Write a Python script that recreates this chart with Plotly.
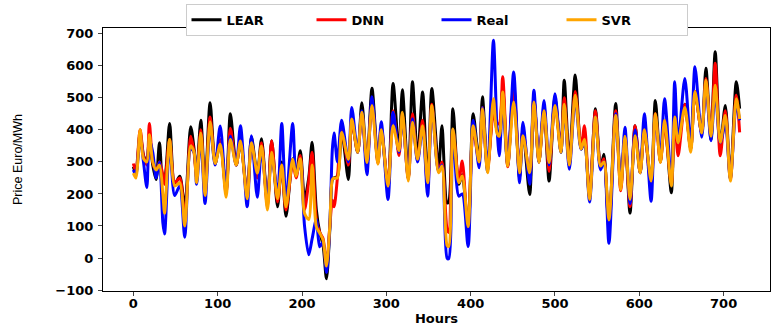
import plotly.graph_objects as go

hours = [0, 3, 8, 12, 16, 19, 23, 27, 31, 35, 37, 43, 49, 55, 61, 68, 72, 75, 80, 85,
         91, 97, 103, 110, 115, 122, 127, 135, 140, 147, 152, 159, 164, 171, 176, 181, 189, 193, 198, 203,
         208, 212, 217, 221, 225, 229, 233, 236, 238, 242, 247, 255, 259, 266, 271, 277, 283, 290, 294, 302,
         308, 315, 319, 326, 331, 337, 343, 349, 354, 362, 366, 372, 374, 379, 386, 390, 397, 403, 410, 414,
         420, 427, 431, 434, 438, 444, 451, 458, 462, 470, 475, 481, 487, 493, 500, 507, 511, 517, 524, 531,
         535, 541, 548, 554, 558, 564, 572, 578, 583, 589, 595, 601, 606, 614, 619, 625, 630, 638, 642, 646,
         654, 661, 666, 674, 679, 685, 690, 696, 702, 708, 715, 719]

lear = [285, 265, 390, 320, 300, 380, 290, 245, 360, 235, 240, 420, 230, 255, 160, 410, 340, 260, 430, 220,
        485, 295, 360, 210, 450, 290, 360, 200, 378, 260, 372, 170, 366, 160, 300, 130, 310, 260, 335, 185,
        250, 361, 150, 80, 40, -65, 90, 245, 250, 255, 400, 245, 430, 330, 485, 290, 530, 300, 400, 220,
        545, 330, 525, 250, 550, 310, 518, 230, 529, 280, 413, 172, 175, 466, 230, 260, 90, 450, 300, 503,
        280, 470, 400, 380, 530, 290, 530, 250, 400, 198, 500, 300, 470, 240, 500, 330, 555, 300, 571, 340,
        370, 190, 466, 280, 324, 100, 482, 220, 380, 140, 413, 266, 400, 235, 492, 300, 430, 204, 450, 360,
        480, 340, 520, 390, 592, 370, 644, 350, 476, 250, 550, 466]

dnn = [295, 270, 400, 320, 290, 420, 300, 270, 300, 260, 230, 370, 235, 250, 120, 380, 330, 250, 400, 200,
       440, 300, 370, 200, 405, 290, 370, 190, 365, 250, 360, 160, 366, 175, 290, 150, 300, 250, 320, 150,
       240, 330, 120, 80, 60, -30, 100, 180, 160, 250, 400, 290, 430, 330, 455, 290, 490, 295, 410, 225,
       460, 320, 450, 245, 450, 305, 430, 215, 480, 270, 300, 90, 80, 400, 240, 303, 80, 400, 300, 470,
       275, 450, 420, 420, 566, 285, 540, 260, 400, 250, 500, 300, 470, 270, 490, 340, 500, 290, 520, 345,
       413, 190, 460, 285, 310, 90, 460, 210, 380, 160, 413, 266, 400, 220, 450, 300, 420, 230, 440, 319,
       480, 340, 520, 390, 560, 380, 608, 319, 460, 245, 508, 392]

real = [275, 260, 380, 300, 220, 370, 330, 250, 300, 110, 75, 360, 195, 225, 65, 340, 330, 230, 375, 170,
        410, 290, 412, 210, 380, 290, 413, 160, 382, 190, 340, 180, 320, 200, 420, 175, 420, 260, 300, 100,
        10, 60, 120, 35, 50, -45, 100, 340, 390, 300, 430, 300, 470, 330, 460, 260, 503, 300, 425, 183,
        455, 330, 440, 250, 435, 300, 410, 193, 470, 270, 290, 0, -2, 400, 193, 200, 36, 430, 282, 470,
        270, 680, 420, 319, 480, 290, 581, 235, 424, 230, 524, 300, 492, 290, 513, 330, 470, 277, 500, 340,
        360, 175, 440, 275, 300, 46, 450, 230, 408, 170, 400, 266, 450, 177, 440, 320, 497, 240, 550, 360,
        560, 350, 597, 377, 540, 366, 520, 360, 419, 245, 480, 430]

svr = [265, 250, 400, 310, 300, 385, 300, 275, 290, 200, 140, 370, 225, 235, 100, 350, 330, 235, 390, 195,
       425, 295, 355, 190, 370, 290, 365, 185, 360, 265, 350, 150, 330, 185, 290, 160, 308, 255, 310, 140,
       120, 290, 98, 78, 56, -25, 100, 245, 250, 250, 392, 308, 434, 330, 455, 298, 476, 293, 400, 224,
       413, 335, 455, 240, 424, 308, 413, 235, 476, 266, 287, 40, 36, 403, 235, 256, 98, 413, 300, 466,
       266, 497, 392, 380, 518, 287, 487, 266, 382, 266, 487, 298, 460, 298, 476, 330, 480, 290, 508, 340,
       370, 183, 440, 287, 300, 119, 445, 214, 380, 183, 382, 266, 400, 240, 450, 298, 430, 225, 440, 360,
       470, 330, 520, 390, 555, 380, 539, 361, 445, 240, 497, 434]

series = [("LEAR", lear, "black"), ("DNN", dnn, "red"), ("Real", real, "blue"), ("SVR", svr, "orange")]

x_ticks = [0, 100, 200, 300, 400, 500, 600, 700]
y_ticks = [-100, 0, 100, 200, 300, 400, 500, 600, 700]
y_tick_text = ["\u2212100", "0", "100", "200", "300", "400", "500", "600", "700"]

fig = go.Figure()
for name, vals, color in series:
    fig.add_trace(go.Scatter(x=hours, y=vals, name=name, mode="lines",
                             line=dict(color=color, width=3, shape="spline", smoothing=0.8)))

tick_font = dict(family="DejaVu Sans", size=13, color="black", weight="bold")

fig.update_layout(
    width=784, height=328,
    margin=dict(l=103, r=14, t=28, b=37, autoexpand=False),
    paper_bgcolor="white", plot_bgcolor="white",
    showlegend=True,
    legend=dict(orientation="h", x=0.5, xanchor="center", y=1.092, yanchor="top",
                font=dict(family="DejaVu Sans", size=13, color="black", weight="bold"),
                bgcolor="white", bordercolor="#cccccc", borderwidth=1,
                entrywidth=80, entrywidthmode="pixels", tracegroupgap=0),
    xaxis=dict(range=[-36, 755], tickvals=x_ticks, ticks="outside", ticklen=4, tickcolor="#444444",
               showline=True, linecolor="black", linewidth=1, mirror=True, showgrid=False,
               zeroline=False, tickfont=tick_font, automargin=False, ticklabelstandoff=-4,
               title=dict(text="Hours", font=tick_font, standoff=0)),
    yaxis=dict(range=[-103, 718], tickvals=y_ticks, ticktext=y_tick_text, ticks="outside", ticklen=4,
               tickcolor="#444444", showline=True, linecolor="black", linewidth=1, mirror=True,
               showgrid=False, zeroline=False, tickfont=tick_font, automargin=False, ticklabelstandoff=2,
               title=dict(text="Price Euro/MWh",
                          font=dict(family="Liberation Sans Narrow, Arial Narrow, Liberation Sans", size=12.5,
                                    color="black"),
                          standoff=29)),
)

fig.write_html("out.html", config={"displayModeBar": False},
               post_script="document.body.style.margin='0';")
